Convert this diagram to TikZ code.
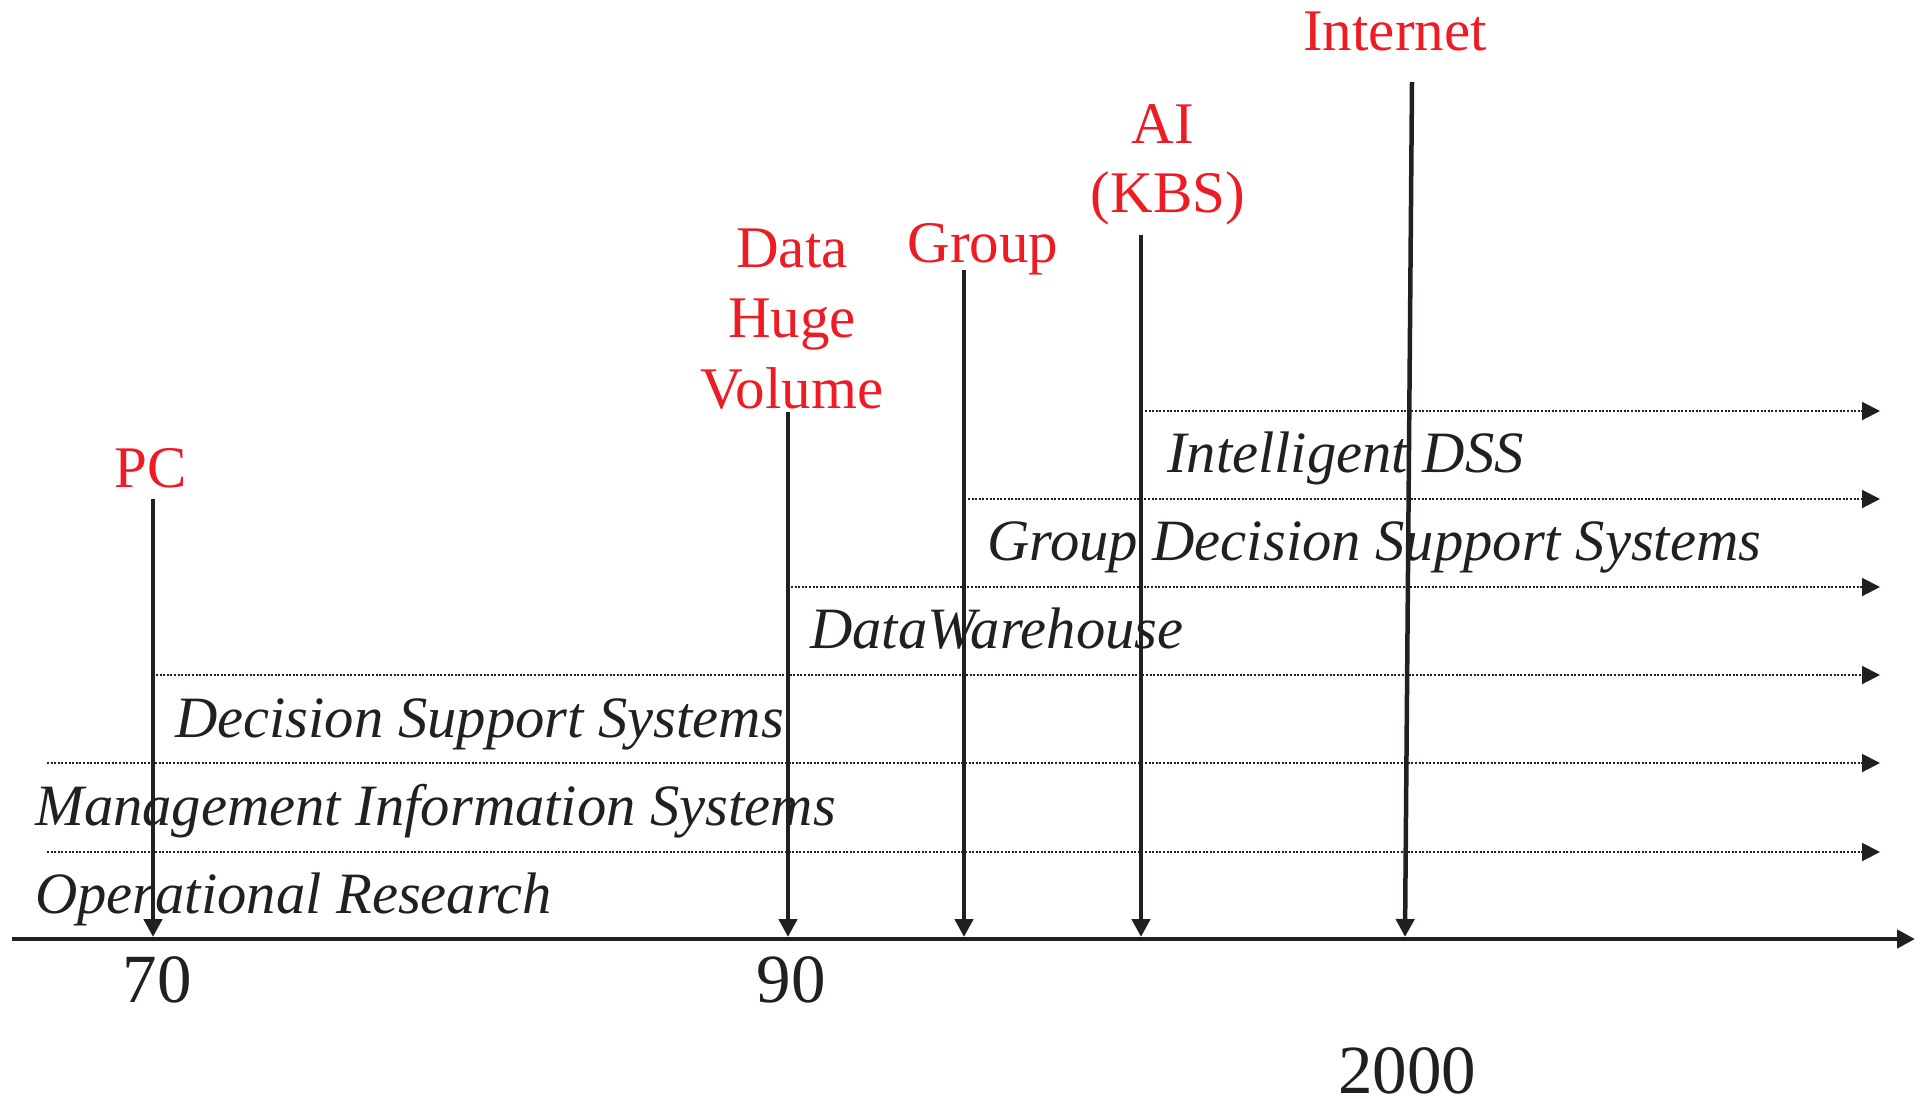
\documentclass[tikz,border=0pt]{standalone}
\usepackage{fontspec}
\setmainfont{Liberation Serif}
\usetikzlibrary{arrows.meta}
\definecolor{lblred}{RGB}{237,28,36}
\definecolor{ink}{RGB}{35,31,32}
\begin{document}
\begin{tikzpicture}[x=1pt,y=-1pt,
  redlbl/.style={text=lblred,inner sep=0pt,anchor=base,font=\fontsize{59}{70}\selectfont},
  eralbl/.style={text=ink,inner sep=0pt,anchor=base west,font=\fontsize{58.6}{70}\selectfont\itshape},
  yearlbl/.style={text=ink,inner sep=0pt,anchor=base,font=\fontsize{69}{80}\selectfont},
  evarrow/.style={draw=ink,line width=4.5pt,-{Triangle[length=18pt,width=18pt]}},
  eraline/.style={draw=ink,line width=2pt,dash pattern=on 2pt off 1.6pt,-{Triangle[length=18pt,width=18pt]}},
  axisline/.style={draw=ink,line width=4.8pt,-{Triangle[length=18pt,width=18pt]}}]
\useasboundingbox (0,0) rectangle (1922,1098);
% era labels
\node[eralbl] (idss) at (1167,472) {Intelligent DSS};
\node[eralbl] (gdss) at (987,560) {Group Decision Support Systems};
\node[eralbl] (dw) at (810,648) {DataWarehouse};
\node[eralbl] (dss) at (175,737) {Decision Support Systems};
\node[eralbl] (mis) at (35,825) {Management Information Systems};
\node[eralbl] (or) at (35,913) {Operational Research};
% dotted era lines
\coordinate (l1s) at (1145,411); \coordinate (l1e) at (1880,411);
\coordinate (l2s) at (968,499);  \coordinate (l2e) at (1880,499);
\coordinate (l3s) at (791,587);  \coordinate (l3e) at (1880,587);
\coordinate (l4s) at (156,675);  \coordinate (l4e) at (1880,675);
\coordinate (l5s) at (47,763);   \coordinate (l5e) at (1880,763);
\coordinate (l6s) at (47,852);   \coordinate (l6e) at (1880,852);
\foreach \i in {1,...,6} { \draw[eraline] (l\i s) -- (l\i e); }
% axis
\coordinate (axs) at (12,939);
\coordinate (axe) at (1915,939);
\draw[axisline] (axs) -- (axe);
% year labels
\node[yearlbl] (y70) at (157,1002) {70};
\node[yearlbl] (y90) at (791,1002) {90};
\node[yearlbl] (y2000) at (1407,1093) {2000};
% event labels
\node[redlbl] (pc) at (151,487) {PC};
\node[redlbl] (data1) at (792,267) {Data};
\node[redlbl] (data2) at (792,337) {Huge};
\node[redlbl] (data3) at (792,408) {Volume};
\node[redlbl] (grp) at (983,262) {Group};
\node[redlbl] (ai1) at (1163,143) {AI};
\node[redlbl] (ai2) at (1168,212) {(KBS)};
\node[redlbl] (inet) at (1395,50) {Internet};
% event arrows
\coordinate (pcT) at (153,499);   \coordinate (pcB) at (153,937);
\coordinate (dT) at (788,412);    \coordinate (dB) at (788,937);
\coordinate (gT) at (964,270);    \coordinate (gB) at (964,937);
\coordinate (aT) at (1141,235);   \coordinate (aB) at (1141,937);
\coordinate (iT) at (1412,82);    \coordinate (iB) at (1405,937);
\draw[evarrow] (pcT) -- (pcB);
\draw[evarrow] (dT) -- (dB);
\draw[evarrow] (gT) -- (gB);
\draw[evarrow] (aT) -- (aB);
\draw[evarrow] (iT) -- (iB);
\end{tikzpicture}
\end{document}
